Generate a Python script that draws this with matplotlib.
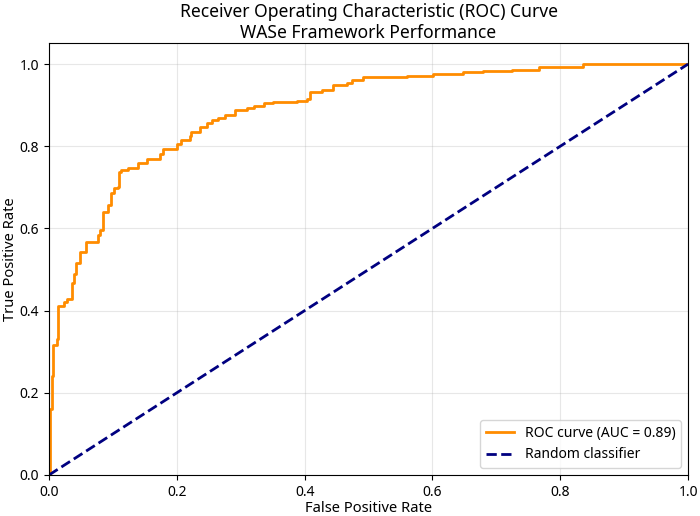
import matplotlib
matplotlib.use('Agg')
import matplotlib.pyplot as plt

plt.rcParams['font.family'] = ['Noto Sans', 'DejaVu Sans']

# ROC corner points (fpr, tpr)
fpr = [0.0, 0.002, 0.004, 0.006, 0.0125, 0.014, 0.023, 0.028, 0.036, 0.039,
       0.042, 0.049, 0.058, 0.076, 0.080, 0.084, 0.092, 0.097, 0.101, 0.1075,
       0.110, 0.113, 0.123, 0.139, 0.154, 0.173, 0.178, 0.201, 0.207, 0.220,
       0.222, 0.237, 0.247, 0.255, 0.265, 0.276, 0.291, 0.310, 0.320, 0.336,
       0.351, 0.388, 0.403, 0.409, 0.427, 0.445, 0.466, 0.474, 0.492, 0.560,
       0.601, 0.648, 0.679, 0.725, 0.766, 0.836, 1.0]
tpr = [0.0, 0.16, 0.24, 0.316, 0.33, 0.41, 0.42, 0.428, 0.467, 0.49,
       0.515, 0.543, 0.568, 0.584, 0.596, 0.641, 0.657, 0.685, 0.698, 0.70,
       0.738, 0.742, 0.748, 0.758, 0.770, 0.781, 0.794, 0.805, 0.815, 0.825,
       0.835, 0.847, 0.856, 0.864, 0.868, 0.876, 0.888, 0.892, 0.898, 0.904,
       0.908, 0.910, 0.914, 0.932, 0.936, 0.949, 0.953, 0.961, 0.969, 0.971,
       0.975, 0.980, 0.984, 0.985, 0.992, 1.0, 1.0]
auc_value = 0.89
diag = [0, 1]

fig, ax = plt.subplots(figsize=(7, 5.16), dpi=100)
fig.subplots_adjust(left=0.07, right=0.983, top=0.9157, bottom=0.0795)

ax.step(fpr, tpr, where='post', color='darkorange', lw=2,
        label='ROC curve (AUC = %0.2f)' % auc_value)
ax.plot(diag, diag, color='navy', lw=2, linestyle='--', label='Random classifier')

ax.set_xlim(0.0, 1.0)
ax.set_ylim(0.0, 1.05)
ax.tick_params(labelsize=10)
ax.set_xlabel('False Positive Rate', fontsize=10.6, labelpad=1)
ax.set_ylabel('True Positive Rate', fontsize=10.6, labelpad=1)
ax.set_title('Receiver Operating Characteristic (ROC) Curve\nWASe Framework Performance',
             fontsize=12.6, pad=4)
ax.legend(loc='lower right', fontsize=10)
ax.grid(True, alpha=0.3)

fig.savefig('out.png', dpi=100)
